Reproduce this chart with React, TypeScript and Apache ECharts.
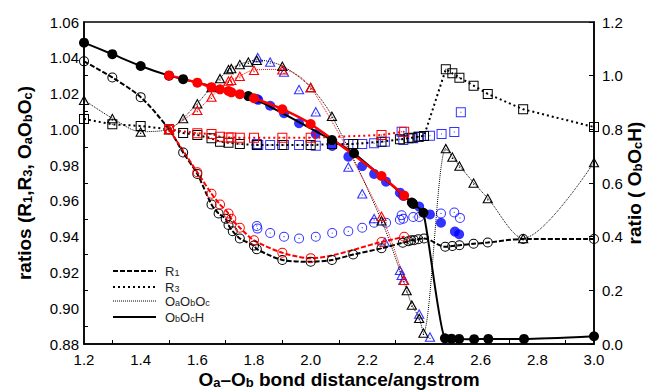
import React, { useEffect, useRef } from "react";
import * as echarts from "echarts";

type P = [number, number];

// ---- x / y axis ranges
const xRange = [1.2, 3.0];
const leftRange = [0.88, 1.06];
const rightRange = [0, 1.2];

// ---- R1 (open circles, left axis)
const blackR1: P[] = [[1.2,1.038],[1.3,1.029],[1.4,1.018],[1.5,1.0],[1.55,0.987],[1.6,0.975],[1.65,0.958],[1.675,0.953],[1.7,0.950],[1.71,0.9465],[1.725,0.943],[1.75,0.939],[1.8,0.935],[1.81,0.933],[1.9,0.927],[2.0,0.926],[2.075,0.927],[2.15,0.930],[2.25,0.9335],[2.325,0.9366],[2.345,0.9375],[2.355,0.938],[2.365,0.938],[2.38,0.9386],[2.4,0.939],[2.475,0.9344],[2.5,0.9348],[2.525,0.9352],[2.575,0.936],[2.625,0.9367],[2.75,0.9387],[3.0,0.9387]];
const redR1: P[] = [[1.5,1.0],[1.6,0.976],[1.65,0.964],[1.68,0.958],[1.71,0.953],[1.72,0.950],[1.75,0.945],[1.8,0.938],[1.9,0.931],[2.0,0.928],[2.25,0.937],[2.33,0.940]];
const blueR1: P[] = [[1.81,0.946],[1.812,0.9445],[1.857,0.942],[1.906,0.940],[1.959,0.939],[2.018,0.940],[2.076,0.942],[2.133,0.943],[2.182,0.945],[2.224,0.9478],[2.266,0.9478],[2.315,0.9495],[2.321,0.952],[2.327,0.950],[2.362,0.951],[2.383,0.951],[2.46,0.953],[2.507,0.9535],[2.527,0.9505]];

// ---- R3 (open squares, left axis)
const blackR3: P[] = [[1.2,1.0058],[1.3,1.0028],[1.4,1.0019],[1.5,1.0],[1.55,0.998],[1.6,0.9968],[1.65,0.995],[1.68,0.9931],[1.71,0.9925],[1.75,0.9918],[1.81,0.9912],[1.9,0.9912],[2.0,0.9912],[2.075,0.9918],[2.15,0.9918],[2.25,0.9931],[2.315,0.9944],[2.345,0.995],[2.357,0.9953],[2.38,0.9959],[2.4,0.9963],[2.477,1.0336],[2.5,1.0313],[2.525,1.0289],[2.575,1.0244],[2.625,1.0198],[2.75,1.0112],[3.0,1.0013]];
const redR3: P[] = [[1.5,1.0],[1.6,0.9978],[1.65,0.9974],[1.68,0.9959],[1.71,0.9955],[1.72,0.9955],[1.75,0.9953],[1.8,0.9953],[1.9,0.9953],[2.0,0.9953],[2.25,0.9968],[2.33,0.9987]];
const blueR3: P[] = [[1.81,0.9918],[1.815,0.9912],[1.857,0.9912],[1.906,0.9912],[1.959,0.9912],[2.018,0.9908],[2.076,0.9918],[2.133,0.9918],[2.182,0.9918],[2.224,0.9922],[2.262,0.9931],[2.321,0.9987],[2.327,0.994],[2.362,0.995],[2.383,0.9959],[2.421,0.9964],[2.462,0.9974],[2.507,0.9985],[2.53,1.0095]];

// ---- OaObOc (open triangles, left axis)
const blackOOO: P[] = [[1.2,1.0164],[1.3,1.0062],[1.4,0.9987],[1.5,1.0],[1.55,1.0062],[1.6,1.0145],[1.65,1.0235],[1.68,1.0285],[1.71,1.0336],[1.72,1.0341],[1.75,1.0364],[1.78,1.0378],[1.81,1.0388],[1.9,1.0354],[2.0,1.0235],[2.075,1.0075],[2.25,0.949],[2.339,0.910],[2.357,0.9019],[2.383,0.8945],[2.398,0.8863],[2.477,0.9894],[2.5,0.9847],[2.525,0.9797],[2.575,0.9702],[2.625,0.9615],[2.75,0.9391],[3.0,0.9816]];
const redOOO: P[] = [[1.5,1.0],[1.6,1.0108],[1.65,1.0182],[1.71,1.0272],[1.72,1.0276],[1.75,1.0298],[1.8,1.0332],[1.9,1.0335],[2.0,1.0235],[2.25,0.9516],[2.33,0.9158]];
const blueOOO: P[] = [[1.813,1.0403],[1.857,1.0378],[1.906,1.0322],[1.959,1.0224],[2.018,1.01],[2.133,0.9791],[2.182,0.9642],[2.224,0.9503],[2.262,0.9372],[2.315,0.9213],[2.321,0.9186],[2.327,0.9158],[2.383,0.8969],[2.421,0.8841]];

// ---- ObOcH (filled circles, right axis)
const blackOOH: P[] = [[1.2,1.123],[1.3,1.080],[1.4,1.036],[1.5,1.0],[1.55,0.987],[1.78,0.924],[2.075,0.760],[2.153,0.711],[2.357,0.527],[2.362,0.522],[2.398,0.489],[2.474,0.021],[2.497,0.020],[2.524,0.019],[2.577,0.018],[2.627,0.019],[2.753,0.019],[3.0,0.029]];
const redOOH: P[] = [[1.5,1.001],[1.6,0.974],[1.65,0.957],[1.68,0.949],[1.71,0.943],[1.72,0.938],[1.75,0.931],[1.8,0.916],[1.9,0.875],[2.0,0.820],[2.25,0.626],[2.33,0.553]];
const blueOOH: P[] = [[1.81,0.913],[1.815,0.910],[1.857,0.888],[1.906,0.860],[1.959,0.823],[2.018,0.783],[2.076,0.738],[2.133,0.698],[2.182,0.663],[2.224,0.634],[2.266,0.605],[2.315,0.564],[2.327,0.552],[2.383,0.512],[2.421,0.483],[2.46,0.452],[2.509,0.419],[2.524,0.409]];

// ---- legend
const legendLabels = ["R{s|1}", "R{s|3}", "O{s|a}O{s|b}O{s|c}", "O{s|b}O{s|c}H"];

const BLACK = "#000000";
const RED = "#ff0000";
const BLUE = "#0000ff";

const CIRCLE = "path://M10 0A10 10 0 1 1 10 20A10 10 0 1 1 10 0ZM10 2A8 8 0 1 0 10 18A8 8 0 1 0 10 2ZM10 8.8A1.2 1.2 0 1 1 10 11.2A1.2 1.2 0 1 1 10 8.8Z";
const SQUARE = "path://M0 0H20V20H0ZM2 2V18H18V2ZM9 9H11V11H9Z";
const TRIANGLE = "path://M10 0L20 18L0 18ZM10 4.2L3.4 16.2L16.6 16.2ZM9 11H11V13H9Z";

const FONT = "'Liberation Sans', Arial, sans-serif";

function ser(data: P[], color: string, symbol: string, size: any, line: any, yAxisIndex = 0) {
  if (!line) {
    return {
      type: "scatter", data, yAxisIndex, symbol, symbolSize: size,
      itemStyle: { color, borderWidth: 0 }, silent: true,
    };
  }
  return {
    type: "line", data, yAxisIndex, symbol, symbolSize: size, showAllSymbol: true,
    smooth: line.smooth ?? false,
    itemStyle: { color, borderWidth: 0 },
    lineStyle: { color, width: line.width, type: line.type },
    silent: true,
  };
}

const subRich = {
  s: { fontSize: 13, fontWeight: "bold", fontFamily: FONT, color: "#000", verticalAlign: "bottom", lineHeight: 13 },
};

export default function App() {
  const ref = useRef<HTMLDivElement>(null);
  useEffect(() => {
    const chart = echarts.init(ref.current!, null, { renderer: "svg" });
    const dashed = { type: [5, 2], width: 2, smooth: 0.3 };
    const dotted = { type: [2, 3], width: 2 };
    const fine = { type: [1, 1], width: 1, smooth: 0.3 };
    const solid = { type: "solid", width: 2, smooth: 0.2 };
    const redSolid = { type: "solid", width: 2.5, smooth: 0.2 };
    const legendY = [271, 287, 301, 317];
    const legendDash: any[] = [[5, 2], [2, 3], [1, 1], null];
    const legendW = [2, 2, 1, 2];
    const graphic: any[] = [];
    legendY.forEach((y, i) => {
      graphic.push({
        type: "line", shape: { x1: 113, y1: y, x2: 156, y2: y },
        style: { stroke: "#000", lineWidth: legendW[i], lineDash: legendDash[i] },
      });
      graphic.push({
        type: "text", x: 165, y: y - 6,
        style: {
          text: legendLabels[i], fontSize: 13, fontFamily: FONT, fill: "#222", lineHeight: 12,
          rich: { s: { fontSize: 9, fontFamily: FONT, fill: "#222", verticalAlign: "bottom", lineHeight: 8 } },
        },
      });
    });
    const axisLabel = { color: "#000", fontSize: 15, fontFamily: FONT };
    const nameStyle = { fontSize: 19, fontWeight: "bold", fontFamily: FONT, color: "#000", lineHeight: 20, rich: subRich };
    chart.setOption({
      animation: false,
      grid: { left: 84, right: 60, top: 22, bottom: 48, show: true, borderColor: "#000", borderWidth: 1.5, outerBoundsMode: "none" },
      xAxis: {
        type: "value", min: xRange[0], max: xRange[1], interval: 0.2,
        axisLine: { lineStyle: { color: "#000", width: 1.5 } },
        axisTick: { show: false, inside: true },
        minorTick: { show: true, splitNumber: 2, length: 4, lineStyle: { color: "#000" } },
        splitLine: { show: false },
        axisLabel: { ...axisLabel, margin: 8, formatter: (v: number) => v.toFixed(1) },
        name: "O{s|a}–O{s|b} bond distance/angstrom", nameLocation: "middle", nameGap: 25,
        nameTextStyle: nameStyle, nameMoveOverlap: false,
      },
      yAxis: [
        {
          type: "value", min: leftRange[0], max: leftRange[1], interval: 0.02,
          axisLine: { show: true, lineStyle: { color: "#000", width: 1.5 } },
          axisTick: { show: false, inside: true },
          minorTick: { show: true, splitNumber: 2, length: 4, lineStyle: { color: "#000" } },
          splitLine: { show: false },
          axisLabel: { ...axisLabel, margin: 5, formatter: (v: number) => v.toFixed(2) },
          name: "ratios (R{s|1},R{s|3}, O{s|a}O{s|b}O{s|c})", nameLocation: "middle", nameRotate: 90, nameGap: 50,
          nameTextStyle: nameStyle, nameMoveOverlap: false,
        },
        {
          type: "value", position: "right", min: rightRange[0], max: rightRange[1], interval: 0.2,
          axisLine: { show: true, lineStyle: { color: "#000", width: 1.5 } },
          axisTick: { show: true, inside: true, length: 5, lineStyle: { color: "#000" } },
          splitLine: { show: false },
          axisLabel: { ...axisLabel, margin: 8, formatter: (v: number) => v.toFixed(1) },
          name: "ratio ( O{s|b}O{s|c}H)", nameLocation: "middle", nameRotate: 90, nameGap: 30,
          nameTextStyle: nameStyle, nameMoveOverlap: false,
        },
      ],
      graphic,
      series: [
        ser(blackR1, BLACK, CIRCLE, 10, dashed),
        ser(blackR3, BLACK, SQUARE, 10, dotted),
        ser(blackOOO, BLACK, TRIANGLE, [11, 10], fine),
        ser(blackOOH, BLACK, "circle", 10, solid, 1),
        ser(redR1, RED, CIRCLE, 10, dashed),
        ser(redR3, RED, SQUARE, 10, dotted),
        ser(redOOO, RED, TRIANGLE, [11, 10], fine),
        ser(redOOH, RED, "circle", 10, redSolid, 1),
        ser(blueR1, BLUE, CIRCLE, 10, null),
        ser(blueR3, BLUE, SQUARE, 10, null),
        ser(blueOOO, BLUE, TRIANGLE, [11, 10], null),
        ser(blueOOH, BLUE, "circle", 10, null, 1),
      ],
    });
    return () => chart.dispose();
  }, []);
  return <div ref={ref} style={{ position: "fixed", left: 0, top: 0, width: 654, height: 392, background: "#fff" }} />;
}
